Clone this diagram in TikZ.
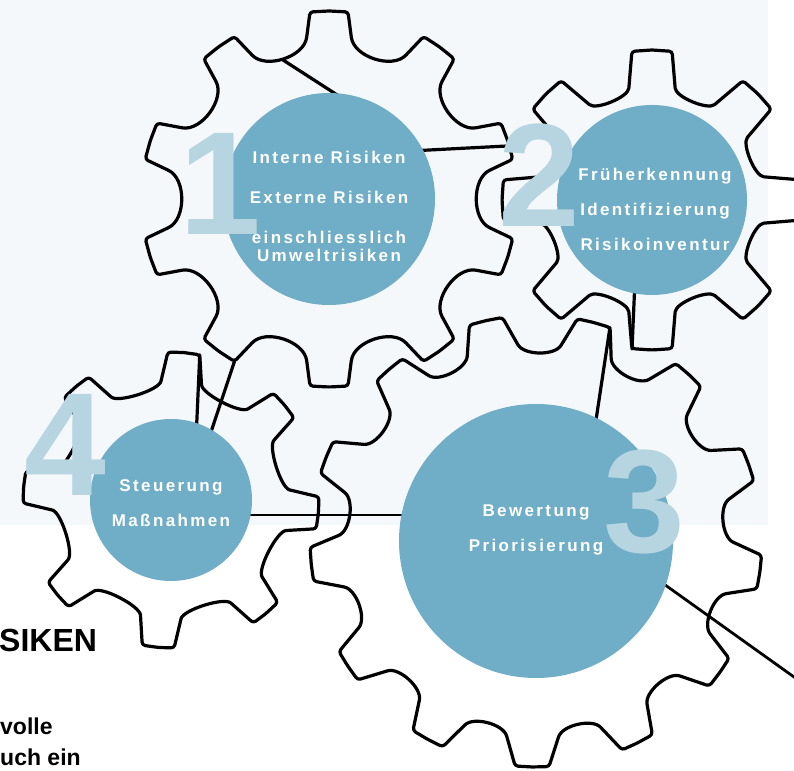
\documentclass[tikz,border=0pt]{standalone}
\usepackage{fontspec}
\setmainfont{Liberation Sans}
\newfontfamily\circfont[LetterSpace=14]{Liberation Sans Bold}
\usetikzlibrary{calc}

\definecolor{bgblue}{HTML}{F4F8FB}
\definecolor{circblue}{HTML}{6FAEC6}
\definecolor{numblue}{HTML}{B6D5E1}

\tikzset{
  gearline/.style={line width=3.2pt, line cap=round, line join=round},
  circ/.style={circle, fill=circblue, inner sep=0pt},
  lbl/.style={text=white, font=\circfont\fontsize{17}{17}\selectfont, inner sep=0pt, anchor=base},
  num/.style={text=numblue, font=\bfseries\fontsize{147}{147}\selectfont, inner sep=0pt},
  plain/.style={anchor=base west, inner sep=0pt, font=\bfseries\fontsize{23}{23}\selectfont},
}

% gear: centre, teeth, first tooth, tip radius, base radius, tip half angle, base half angle, valley depth
\newcommand\gear[8]{
  \draw[gearline, rounded corners=3pt, shift={(#1)}] (#3:#4)
    \foreach \i [evaluate=\i as \ang using #3+(\i-1)*360/#2,
                 evaluate=\i as \nxt using #3+\i*360/#2] in {1,...,#2}{
      -- ({\ang+#6}:#4) -- ({\ang+#7}:#5)
      .. controls ($({\ang+#7}:#5)!-#8!({\ang+#6}:#4)$) and ($({\nxt-#7}:#5)!-#8!({\nxt-#6}:#4)$) .. ({\nxt-#7}:#5)
      -- ({\nxt-#6}:#4) -- (\nxt:#4)
    };
}

\begin{document}
\begin{tikzpicture}[x=1pt,y=1pt]
\useasboundingbox (0,0) rectangle (794,770);
\clip (0,0) rectangle (794,770);
\fill[bgblue] (0,245) rectangle (768,770);

\coordinate (g1) at (329,571);
\coordinate (g2) at (652,570);
\coordinate (g3) at (536,229);
\coordinate (g4) at (171,270);

\gear{g1}{10}{90}{188}{166}{5.8}{7.6}{1.0}
\gear{g2}{8}{90}{150}{117}{7.7}{11.3}{0.35}
\gear{g3}{13}{-91}{226}{200}{4.3}{7.2}{0.55}
\gear{g4}{8}{85}{148}{122}{6.2}{9.4}{0.45}

% strokes running into the discs
\coordinate (s1) at (283,710);
\coordinate (e1) at (345,670);
\coordinate (s2) at (507,624);
\coordinate (e2) at (410,619);
\coordinate (s3) at (240,255);
\coordinate (e3) at (410,255);
\coordinate (s4) at (640,203);
\coordinate (e4) at (815,78);
\coordinate (e5) at (593,330);
\coordinate (e6) at (196,330);
\coordinate (e7) at (205,320);
\coordinate (s8) at (632,421);
\coordinate (e8) at (635,490);

\draw[gearline] (s1) -- (e1);
\draw[gearline] (s2) -- (e2);
\draw[line width=2pt] (s3) -- (e3);
\draw[line width=2.8pt] (s4) -- (e4);
\draw[gearline] ($(g3)+(70.9:226)$) -- (e5);
\draw[gearline] ($(g4)+(78.8:148)$) -- (e6);
\draw[gearline] ($(g1)+(-120.2:188)$) -- (e7);
\draw[gearline] (s8) -- (e8);

\node[circ, minimum size=212pt] (disc1) at (g1) {};
\node[circ, minimum size=190pt] (disc2) at (g2) {};
\node[circ, minimum size=274pt] (disc3) at (g3) {};
\node[circ, minimum size=162pt] (disc4) at (g4) {};

\node[num] (n1) at (220,586) {1};
\node[num] (n2) at (539,595) {2};
\node[num] (n3) at (644,268) {3};
\node[num] (n4) at (65,325) {4};

\node[lbl] (t1a) at (329,606) {Interne Risiken};
\node[lbl] (t1b) at (329,566) {Externe Risiken};
\node[lbl] (t1c) at (329,526) {einschliesslich};
\node[lbl] (t1d) at (329,508) {Umweltrisiken};

\node[lbl] (t2a) at (655,589) {Früherkennung};
\node[lbl] (t2b) at (655,554) {Identifizierung};
\node[lbl] (t2c) at (655,519) {Risikoinventur};

\node[lbl] (t3a) at (536,253) {Bewertung};
\node[lbl] (t3b) at (536,218) {Priorisierung};

\node[lbl] (t4a) at (171,278) {Steuerung};
\node[lbl] (t4b) at (171,243) {Maßnahmen};

\node[plain, font=\bfseries\fontsize{32}{32}\selectfont] (head) at (-1,118) {SIKEN};
\node[plain] (body1) at (0,35) {volle};
\node[plain] (body2) at (0,5) {uch ein};
\end{tikzpicture}
\end{document}
